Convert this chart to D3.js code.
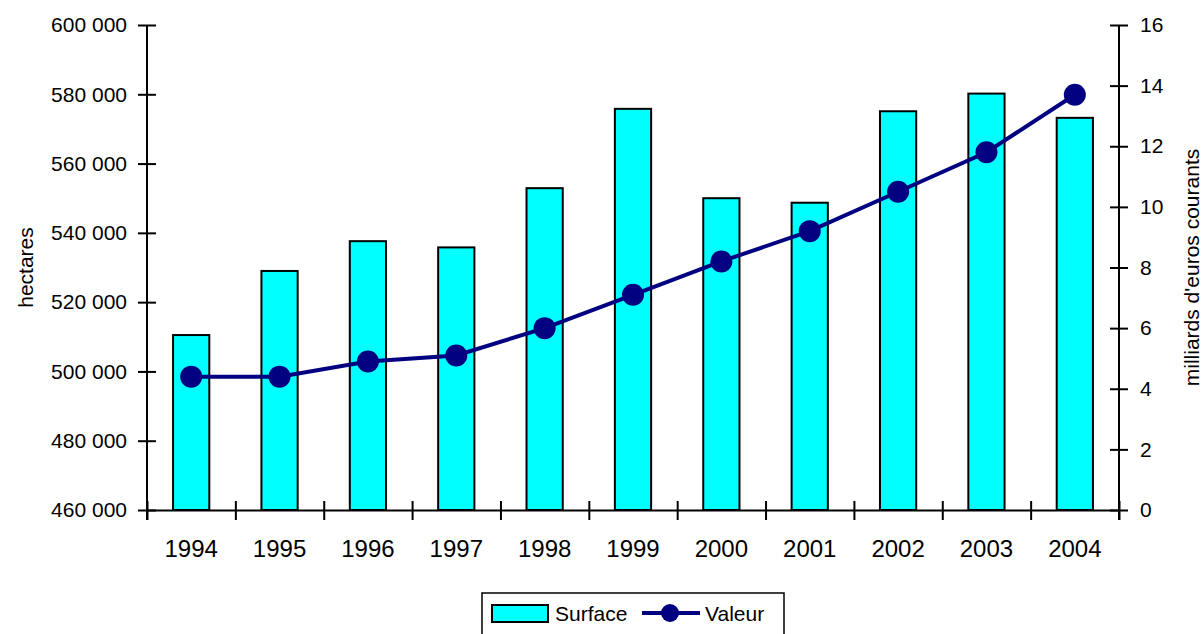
<!DOCTYPE html>
<html>
<head>
<meta charset="utf-8">
<script src="https://cdn.jsdelivr.net/npm/d3@7"></script>
<style>
  html, body { margin: 0; padding: 0; background: #fff; }
  svg { display: block; font-family: "Liberation Sans", Arial, sans-serif; }
</style>
</head>
<body>
<svg id="chart" width="1203" height="634"></svg>
<script>
// Years on the horizontal axis
const years = ["1994","1995","1996","1997","1998","1999","2000","2001","2002","2003","2004"];
// Surface (hectares) — bars, left axis
const surface = [510500, 529000, 537600, 535800, 552900, 575800, 550000, 548700, 575100, 580200, 573200];
// Valeur (milliards d'euros courants) — line, right axis
const valeur = [4.4, 4.4, 4.9, 5.1, 6.0, 7.1, 8.2, 9.2, 10.5, 11.8, 13.7];
// Axis ticks
const leftTicks = [460000, 480000, 500000, 520000, 540000, 560000, 580000, 600000];
const rightTicks = [0, 2, 4, 6, 8, 10, 12, 14, 16];

const svg = d3.select("#chart");
const plotLeft = 147, plotRight = 1119, plotTop = 25, plotBottom = 510;

const frLocale = d3.formatLocale({ decimal: ",", thousands: " ", grouping: [3], currency: ["", " €"] });
const fmt = frLocale.format(",d");

const x = d3.scaleBand().domain(years).range([plotLeft, plotRight])
  .paddingInner(0.59).paddingOuter(0.295);
const xEdge = d3.scaleLinear().domain([0, years.length]).range([plotLeft, plotRight]);
const yL = d3.scaleLinear().domain([460000, 600000]).range([plotBottom, plotTop]);
const yR = d3.scaleLinear().domain([0, 16]).range([plotBottom, plotTop]);

// Bars
svg.append("g").selectAll("rect").data(surface).join("rect")
  .attr("x", (d, i) => x(years[i]))
  .attr("y", d => yL(d))
  .attr("width", x.bandwidth())
  .attr("height", d => yL(460000) - yL(d))
  .attr("fill", "#00FFFF")
  .attr("stroke", "#000")
  .attr("stroke-width", 2);

// Left axis
const gL = svg.append("g").attr("transform", `translate(${plotLeft},0)`)
  .call(d3.axisLeft(yL).tickValues(leftTicks).tickFormat(fmt).tickSizeOuter(0).tickPadding(14));
gL.select(".domain").attr("stroke", "#000").attr("stroke-width", 2).attr("d", `M0,${plotTop}V${plotBottom + 10}`);
gL.selectAll(".tick line").attr("x1", -9).attr("x2", 9).attr("stroke", "#000").attr("stroke-width", 2);
gL.selectAll(".tick text").attr("font-size", 21).attr("fill", "#000");

// Right axis
const gR = svg.append("g").attr("transform", `translate(${plotRight},0)`)
  .call(d3.axisRight(yR).tickValues(rightTicks).tickSizeOuter(0).tickPadding(15));
gR.select(".domain").attr("stroke", "#000").attr("stroke-width", 2).attr("d", `M0,${plotTop}V${plotBottom + 10}`);
gR.selectAll(".tick line").attr("x1", -9).attr("x2", 9).attr("stroke", "#000").attr("stroke-width", 2);
gR.selectAll(".tick text").attr("font-size", 21).attr("fill", "#000");

// Bottom axis: ticks between years, labels centred under each year
const gB = svg.append("g").attr("transform", `translate(0,${plotBottom})`)
  .call(d3.axisBottom(xEdge).tickValues(d3.range(years.length + 1)).tickFormat("").tickSizeOuter(0));
gB.select(".domain").attr("stroke", "#000").attr("stroke-width", 2);
gB.selectAll(".tick line").attr("y1", -9).attr("y2", 10).attr("stroke", "#000").attr("stroke-width", 2);

const gBL = svg.append("g").attr("transform", `translate(0,${plotBottom})`)
  .call(d3.axisBottom(x).tickSize(0).tickPadding(0));
gBL.select(".domain").remove();
gBL.selectAll(".tick text").attr("font-size", 24).attr("fill", "#000").attr("dy", null).attr("y", 47);

// Axis titles
svg.append("text").attr("transform", `translate(33,${(plotTop + plotBottom) / 2}) rotate(-90)`)
  .attr("text-anchor", "middle").attr("font-size", 21).text("hectares");
svg.append("text").attr("transform", `translate(1199,${(plotTop + plotBottom) / 2}) rotate(-90)`)
  .attr("text-anchor", "middle").attr("font-size", 21).text("milliards d'euros courants");

// Line with markers
const cx = (d, i) => x(years[i]) + x.bandwidth() / 2;
svg.append("path").datum(valeur)
  .attr("d", d3.line().x(cx).y(d => yR(d)))
  .attr("fill", "none").attr("stroke", "#000080").attr("stroke-width", 4);
svg.append("g").selectAll("circle").data(valeur).join("circle")
  .attr("cx", cx).attr("cy", d => yR(d)).attr("r", 11).attr("fill", "#000080");

// Legend
const lg = svg.append("g");
lg.append("rect").attr("x", 482).attr("y", 593).attr("width", 302).attr("height", 60)
  .attr("fill", "#fff").attr("stroke", "#000").attr("stroke-width", 1.5);
lg.append("rect").attr("x", 492).attr("y", 605).attr("width", 56).attr("height", 17)
  .attr("fill", "#00FFFF").attr("stroke", "#000").attr("stroke-width", 2);
lg.append("text").attr("x", 555).attr("y", 621).attr("font-size", 21).text("Surface");
lg.append("line").attr("x1", 642).attr("x2", 700).attr("y1", 613).attr("y2", 613)
  .attr("stroke", "#000080").attr("stroke-width", 4);
lg.append("circle").attr("cx", 670).attr("cy", 613).attr("r", 9).attr("fill", "#000080");
lg.append("text").attr("x", 705).attr("y", 621).attr("font-size", 21).text("Valeur");
</script>
</body>
</html>
